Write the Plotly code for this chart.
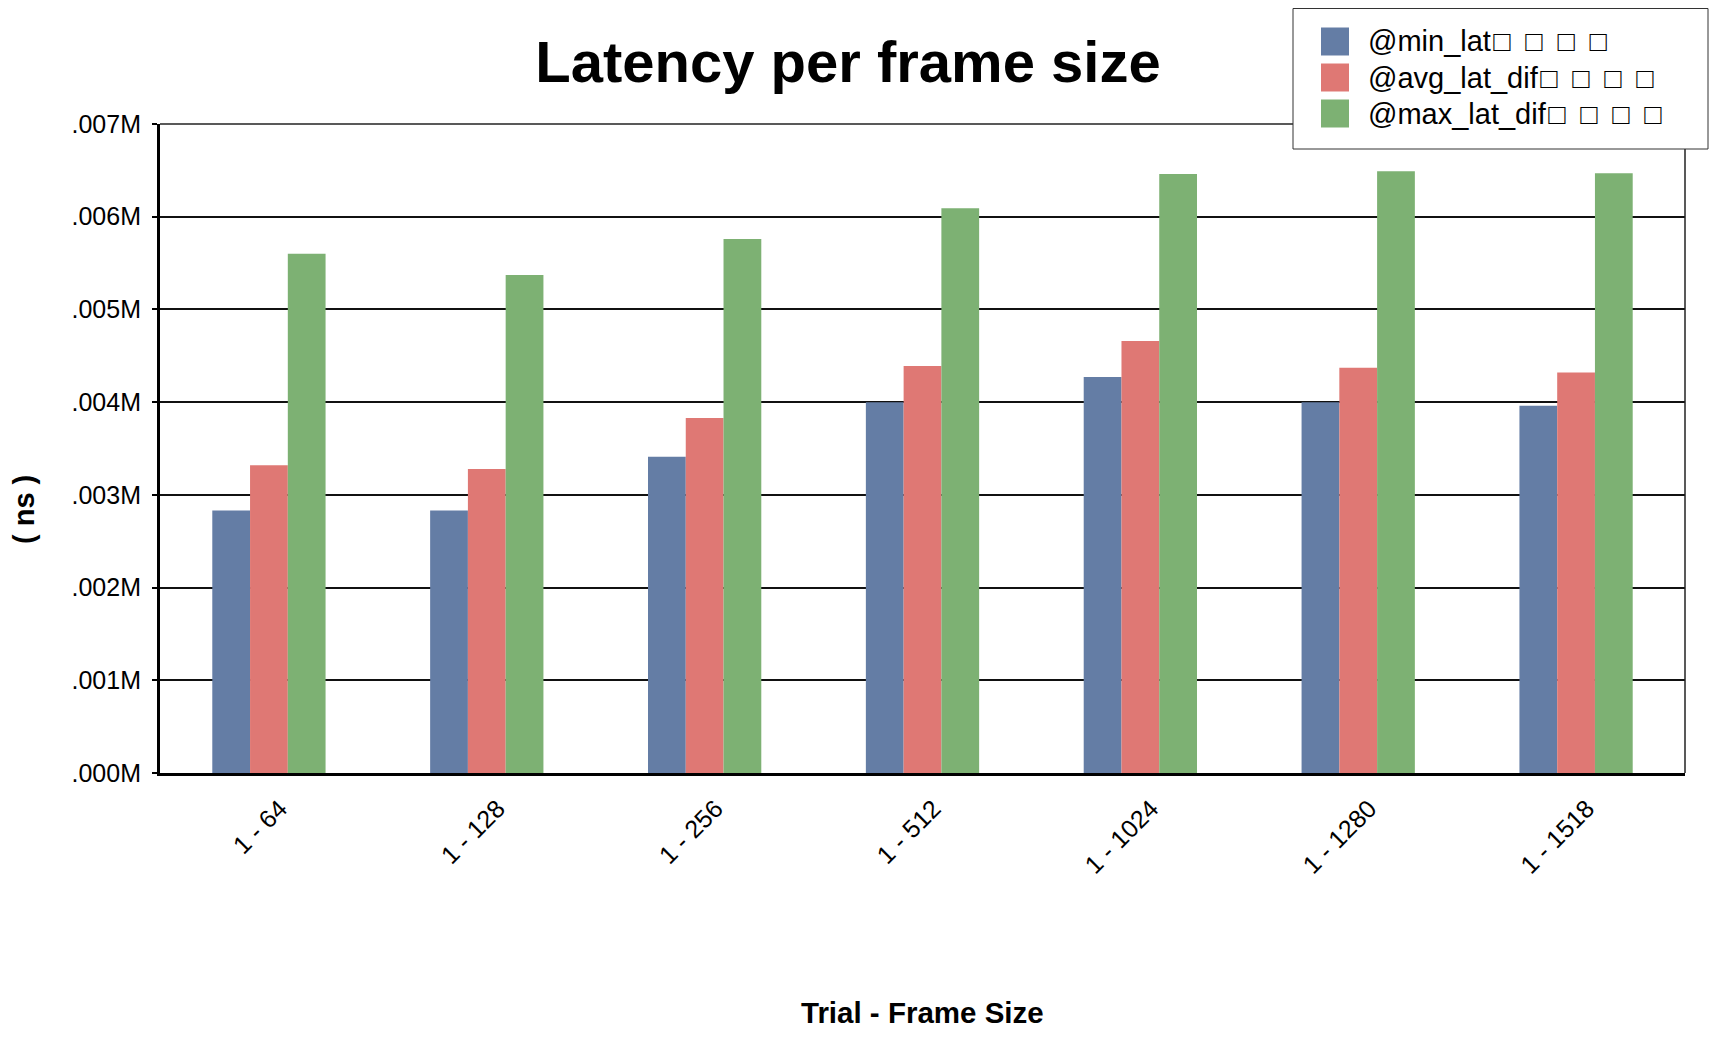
import plotly.graph_objects as go

categories = ["1 - 64", "1 - 128", "1 - 256", "1 - 512", "1 - 1024", "1 - 1280", "1 - 1518"]
series_names = ["@min_lat\u200a\u25a1\u2002\u25a1\u2002\u25a1\u2002\u25a1",
                "@avg_lat_dif\u200a\u25a1\u2002\u25a1\u2002\u25a1\u2002\u25a1",
                "@max_lat_dif\u200a\u25a1\u2002\u25a1\u2002\u25a1\u2002\u25a1"]
min_lat = [0.00283, 0.00283, 0.00341, 0.00400, 0.00427, 0.00400, 0.00396]
avg_lat = [0.00332, 0.00328, 0.00383, 0.00439, 0.00466, 0.00437, 0.00432]
max_lat = [0.00560, 0.00537, 0.00576, 0.00609, 0.00646, 0.00649, 0.00647]
y_tickvals = [0.000, 0.001, 0.002, 0.003, 0.004, 0.005, 0.006, 0.007]
y_ticktext = [".000M", ".001M", ".002M", ".003M", ".004M", ".005M", ".006M", ".007M"]
colors = ["#647da5", "#df7874", "#7db173"]

OFF = 8  # page body margin
W, H = 1717 - 2 * OFF, 1037 - 2 * OFF
L, R, T, B = 160 - OFF, 1685 - OFF, 124 - OFF, 773 - OFF
FONT = "Liberation Sans, Arial, sans-serif"


def px(x):
    return (x - OFF - L) / (R - L)


def py(y):
    return (B - (y - OFF)) / (B - T)


fig = go.Figure()
for name, vals, c in zip(series_names, [min_lat, avg_lat, max_lat], colors):
    fig.add_trace(go.Bar(x=categories, y=vals, name=name, marker=dict(color=c, line=dict(width=0))))

shapes = [
    dict(type="line", xref="paper", yref="paper", x0=0, x1=1, y0=1, y1=1, line=dict(color="#222", width=1.5)),
    dict(type="line", xref="paper", yref="paper", x0=1, x1=1, y0=0, y1=1, line=dict(color="#222", width=1.5)),
    dict(type="rect", xref="paper", yref="paper", x0=px(1293), x1=px(1708), y0=py(149), y1=py(8.5),
         line=dict(color="#333", width=1), fillcolor="white"),
]
annotations = []
ys = [41.5, 77.5, 113.5]
for name, c, yc in zip(series_names, colors, ys):
    shapes.append(dict(type="rect", xref="paper", yref="paper", x0=px(1321), x1=px(1349),
                       y0=py(yc + 14), y1=py(yc - 14), line=dict(width=0), fillcolor=c))
    annotations.append(dict(text=name, xref="paper", yref="paper", x=px(1366), y=py(yc),
                            xanchor="left", yanchor="middle", showarrow=False,
                            font=dict(family=FONT, size=29, color="black")))

annotations.append(dict(text="<b>Trial - Frame Size</b>", xref="paper", yref="paper", x=0.5, y=py(1012),
                        xanchor="center", yanchor="middle", showarrow=False,
                        font=dict(family=FONT, size=29.5, color="black")))
annotations.append(dict(text="<b>( ns )</b>", xref="paper", yref="paper", x=px(24), y=py(510),
                        xanchor="center", yanchor="middle", showarrow=False, textangle=-90,
                        font=dict(family=FONT, size=29, color="black")))

fig.update_layout(
    width=W, height=H,
    margin=dict(l=L, r=W - R, t=T, b=H - B, autoexpand=False),
    paper_bgcolor="white", plot_bgcolor="white",
    barmode="group", bargap=0.48, bargroupgap=0,
    showlegend=False,
    title=dict(text="<b>Latency per frame size</b>", xref="container", yref="container",
               x=(848 - OFF) / W, y=1 - (62 - OFF) / H, xanchor="center", yanchor="middle",
               font=dict(family=FONT, size=58, color="black")),
    font=dict(family=FONT, color="black"),
    xaxis=dict(showline=True, linecolor="black", linewidth=3, ticks="", tickangle=-45,
               ticklabelshift=11, ticklabelstandoff=8,
               tickfont=dict(family=FONT, size=25, color="black"), showgrid=False, automargin=False),
    yaxis=dict(range=[0, 0.007], tickvals=y_tickvals, ticktext=y_ticktext, showline=True,
               linecolor="black", linewidth=3, ticks="outside", ticklen=5, tickcolor="black",
               tickwidth=1.5, ticklabelstandoff=6,
               tickfont=dict(family=FONT, size=25, color="black"), showgrid=True,
               gridcolor="#111", gridwidth=1.8, zeroline=False, automargin=False),
    shapes=shapes,
    annotations=annotations,
)

fig.write_html("out.html")
